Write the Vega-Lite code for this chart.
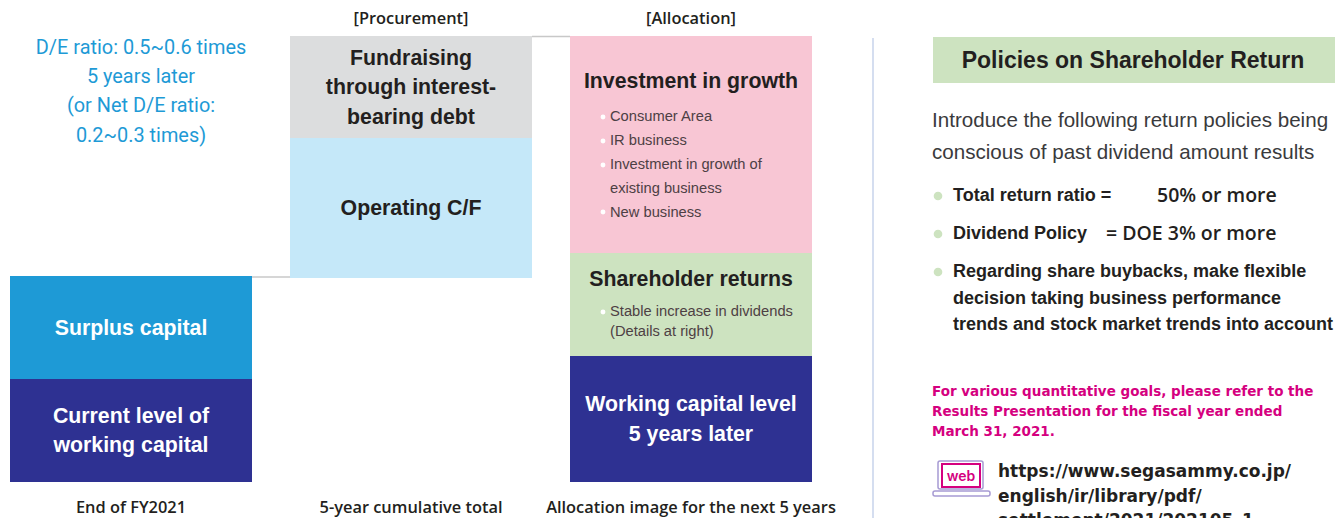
{
"$schema":"https://vega.github.io/schema/vega-lite/v6.json",
"width":1335,"height":518,"padding":0,"autosize":{"type":"none"},
"background":"white",
"config":{"view":{"stroke":null}},
"datasets":{
"boxes":[
{"name":"Surplus capital","left":10,"right":252,"top":276,"bottom":379},
{"name":"Current working capital","left":10,"right":252,"top":379,"bottom":482},
{"name":"Fundraising","left":290,"right":532,"top":36,"bottom":138},
{"name":"Operating C/F","left":290,"right":532,"top":138,"bottom":278},
{"name":"Investment in growth","left":570,"right":812,"top":36,"bottom":253},
{"name":"Shareholder returns","left":570,"right":812,"top":253,"bottom":356},
{"name":"Future working capital","left":570,"right":812,"top":356,"bottom":482},
{"name":"Policies header","left":933,"right":1335,"top":37,"bottom":83}
],
"lines":[
{"id":"a","left":252,"right":290,"top":277,"bottom":277},
{"id":"b","left":532,"right":570,"top":36.5,"bottom":36.5}
],
"divider":[{"id":"d","left":873,"top":38,"bottom":518}],
"dotsWhite":[{"px":603,"py":117},{"px":603,"py":141},{"px":603,"py":165},{"px":603,"py":212},{"px":603,"py":312}],
"dotsGreen":[{"px":938,"py":196},{"px":938,"py":234},{"px":938,"py":272}],
"iconPurple":[{"left":938,"right":983,"top":461,"bottom":489},{"left":933,"right":990,"top":491,"bottom":496}],
"iconPink":[{"left":942,"right":980,"top":464,"bottom":487}],
"text":[
{"k":"din","t":"[Procurement]","px":411,"py":19},
{"k":"din","t":"[Allocation]","px":691,"py":19},
{"k":"din","t":"End of FY2021","px":131,"py":508},
{"k":"din","t":"5-year cumulative total","px":411,"py":508},
{"k":"din","t":"Allocation image for the next 5 years","px":691,"py":508},
{"k":"blue","t":"D/E ratio: 0.5~0.6 times","px":141,"py":47},
{"k":"blue","t":"5 years later","px":141,"py":76},
{"k":"blue","t":"(or Net D/E ratio:","px":141,"py":105},
{"k":"blue","t":"0.2~0.3 times)","px":141,"py":135},
{"k":"dark","t":"Fundraising","px":411,"py":58},
{"k":"dark","t":"through interest-","px":411,"py":87},
{"k":"dark","t":"bearing debt","px":411,"py":117},
{"k":"dark","t":"Operating C/F","px":411,"py":208},
{"k":"dark","t":"Investment in growth","px":691,"py":81},
{"k":"dark","t":"Shareholder returns","px":691,"py":279},
{"k":"white","t":"Surplus capital","px":131,"py":328},
{"k":"white","t":"Current level of","px":131,"py":416},
{"k":"white","t":"working capital","px":131,"py":445},
{"k":"white","t":"Working capital level","px":691,"py":404},
{"k":"white","t":"5 years later","px":691,"py":434},
{"k":"title","t":"Policies on Shareholder Return","px":1133,"py":60},
{"k":"list","t":"Consumer Area","px":610,"py":116},
{"k":"list","t":"IR business","px":610,"py":140},
{"k":"list","t":"Investment in growth of","px":610,"py":164},
{"k":"list","t":"existing business","px":610,"py":188},
{"k":"list","t":"New business","px":610,"py":212},
{"k":"list","t":"Stable increase in dividends","px":610,"py":311},
{"k":"list","t":"(Details at right)","px":610,"py":331},
{"k":"intro","t":"Introduce the following return policies being","px":932,"py":120},
{"k":"intro","t":"conscious of past dividend amount results","px":932,"py":152},
{"k":"policy","t":"Total return ratio =","px":953,"py":195},
{"k":"policy","t":"Dividend Policy","px":953,"py":233},
{"k":"policy","t":"Regarding share buybacks, make flexible","px":953,"py":271},
{"k":"policy","t":"decision taking business performance","px":953,"py":298},
{"k":"policy","t":"trends and stock market trends into account","px":953,"py":324},
{"k":"policyDin","t":"50% or more","px":1157,"py":195},
{"k":"policyDin","t":"= DOE 3% or more","px":1106,"py":233},
{"k":"pink","t":"For various quantitative goals, please refer to the","px":932,"py":391},
{"k":"pink","t":"Results Presentation for the fiscal year ended","px":932,"py":411},
{"k":"pink","t":"March 31, 2021.","px":932,"py":431},
{"k":"url","t":"https://www.segasammy.co.jp/","px":998,"py":471},
{"k":"url","t":"english/ir/library/pdf/","px":998,"py":496},
{"k":"url","t":"settlement/2021/202105_1","px":998,"py":520},
{"k":"web","t":"web","px":961,"py":476}
]
},
"layer":[
{"data":{"name":"boxes"},"mark":{"type":"rect"},
"encoding":{
"x":{"field":"left","type":"quantitative","scale":{"domain":[0,1335],"nice":false,"zero":false},"axis":null},
"x2":{"field":"right"},
"y":{"field":"top","type":"quantitative","scale":{"domain":[518,0],"nice":false,"zero":false},"axis":null},
"y2":{"field":"bottom"},
"color":{"field":"name","type":"nominal","legend":null,"scale":{
"domain":["Surplus capital","Current working capital","Fundraising","Operating C/F","Investment in growth","Shareholder returns","Future working capital","Policies header"],
"range":["#1e9ad6","#2e3192","#dcddde","#c5e8f9","#f8c6d4","#cde3c0","#2e3192","#cde3c0"]}}}},
{"data":{"name":"lines"},"mark":{"type":"rule","color":"#c8c8c8","strokeWidth":1.5},
"encoding":{"x":{"field":"left","type":"quantitative"},"x2":{"field":"right"},"y":{"field":"top","type":"quantitative"}}},
{"data":{"name":"divider"},"mark":{"type":"rule","color":"#d5def0","strokeWidth":2},
"encoding":{"x":{"field":"left","type":"quantitative"},"y":{"field":"top","type":"quantitative"},"y2":{"field":"bottom"}}},
{"data":{"name":"dotsWhite"},"mark":{"type":"point","shape":"circle","filled":true,"opacity":1,"color":"#ffffff","size":24},
"encoding":{"x":{"field":"px","type":"quantitative"},"y":{"field":"py","type":"quantitative"}}},
{"data":{"name":"dotsGreen"},"mark":{"type":"point","shape":"circle","filled":true,"opacity":1,"color":"#cde3c0","size":75},
"encoding":{"x":{"field":"px","type":"quantitative"},"y":{"field":"py","type":"quantitative"}}},
{"data":{"name":"iconPurple"},"mark":{"type":"rect","fill":"#ffffff","stroke":"#a79bd3","strokeWidth":1.5,"cornerRadius":2},
"encoding":{"x":{"field":"left","type":"quantitative"},"x2":{"field":"right"},"y":{"field":"top","type":"quantitative"},"y2":{"field":"bottom"}}},
{"data":{"name":"iconPink"},"mark":{"type":"rect","fill":"#ffffff","stroke":"#d5007f","strokeWidth":2},
"encoding":{"x":{"field":"left","type":"quantitative"},"x2":{"field":"right"},"y":{"field":"top","type":"quantitative"},"y2":{"field":"bottom"}}},
{"data":{"name":"text"},"transform":[{"filter":"datum.k==='din'"}],"mark":{"type":"text","align":"center","baseline":"middle","font":"Open Sans","fontWeight":600,"fontSize":16.4,"color":"#231f20"},
"encoding":{"x":{"field":"px","type":"quantitative"},"y":{"field":"py","type":"quantitative"},"text":{"field":"t"}}},
{"data":{"name":"text"},"transform":[{"filter":"datum.k==='blue'"}],"mark":{"type":"text","dy":1,"align":"center","baseline":"middle","font":"Roboto","fontSize":19.9,"color":"#1e9ad6"},
"encoding":{"x":{"field":"px","type":"quantitative"},"y":{"field":"py","type":"quantitative"},"text":{"field":"t"}}},
{"data":{"name":"text"},"transform":[{"filter":"datum.k==='dark'"}],"mark":{"type":"text","dy":1,"align":"center","baseline":"middle","font":"Liberation Sans","fontWeight":"bold","fontSize":21.3,"color":"#231f20"},
"encoding":{"x":{"field":"px","type":"quantitative"},"y":{"field":"py","type":"quantitative"},"text":{"field":"t"}}},
{"data":{"name":"text"},"transform":[{"filter":"datum.k==='white'"}],"mark":{"type":"text","dy":1,"align":"center","baseline":"middle","font":"Liberation Sans","fontWeight":"bold","fontSize":21.3,"color":"#ffffff"},
"encoding":{"x":{"field":"px","type":"quantitative"},"y":{"field":"py","type":"quantitative"},"text":{"field":"t"}}},
{"data":{"name":"text"},"transform":[{"filter":"datum.k==='title'"}],"mark":{"type":"text","dy":1,"align":"center","baseline":"middle","font":"Liberation Sans","fontWeight":"bold","fontSize":23,"color":"#231f20"},
"encoding":{"x":{"field":"px","type":"quantitative"},"y":{"field":"py","type":"quantitative"},"text":{"field":"t"}}},
{"data":{"name":"text"},"transform":[{"filter":"datum.k==='list'"}],"mark":{"type":"text","dy":1,"align":"left","baseline":"middle","font":"Liberation Sans","fontSize":14.7,"color":"#4d4044"},
"encoding":{"x":{"field":"px","type":"quantitative"},"y":{"field":"py","type":"quantitative"},"text":{"field":"t"}}},
{"data":{"name":"text"},"transform":[{"filter":"datum.k==='intro'"}],"mark":{"type":"text","dy":1,"align":"left","baseline":"middle","font":"Liberation Sans","fontSize":20.6,"color":"#3a3a3c"},
"encoding":{"x":{"field":"px","type":"quantitative"},"y":{"field":"py","type":"quantitative"},"text":{"field":"t"}}},
{"data":{"name":"text"},"transform":[{"filter":"datum.k==='policy'"}],"mark":{"type":"text","dy":1,"align":"left","baseline":"middle","font":"Liberation Sans","fontWeight":"bold","fontSize":18,"color":"#231f20"},
"encoding":{"x":{"field":"px","type":"quantitative"},"y":{"field":"py","type":"quantitative"},"text":{"field":"t"}}},
{"data":{"name":"text"},"transform":[{"filter":"datum.k==='policyDin'"}],"mark":{"type":"text","dy":1,"align":"left","baseline":"middle","font":"Open Sans","fontWeight":600,"fontSize":19.5,"color":"#231f20"},
"encoding":{"x":{"field":"px","type":"quantitative"},"y":{"field":"py","type":"quantitative"},"text":{"field":"t"}}},
{"data":{"name":"text"},"transform":[{"filter":"datum.k==='pink'"}],"mark":{"type":"text","dy":1,"align":"left","baseline":"middle","font":"DejaVu Sans","fontWeight":"bold","fontSize":13.5,"color":"#d5007f"},
"encoding":{"x":{"field":"px","type":"quantitative"},"y":{"field":"py","type":"quantitative"},"text":{"field":"t"}}},
{"data":{"name":"text"},"transform":[{"filter":"datum.k==='url'"}],"mark":{"type":"text","dy":1,"align":"left","baseline":"middle","font":"DejaVu Sans","fontWeight":"bold","fontSize":17,"color":"#231f20"},
"encoding":{"x":{"field":"px","type":"quantitative"},"y":{"field":"py","type":"quantitative"},"text":{"field":"t"}}},
{"data":{"name":"text"},"transform":[{"filter":"datum.k==='web'"}],"mark":{"type":"text","dy":1,"align":"center","baseline":"middle","font":"Inter","fontWeight":600,"fontSize":14,"color":"#d5007f"},
"encoding":{"x":{"field":"px","type":"quantitative"},"y":{"field":"py","type":"quantitative"},"text":{"field":"t"}}}
]
}
